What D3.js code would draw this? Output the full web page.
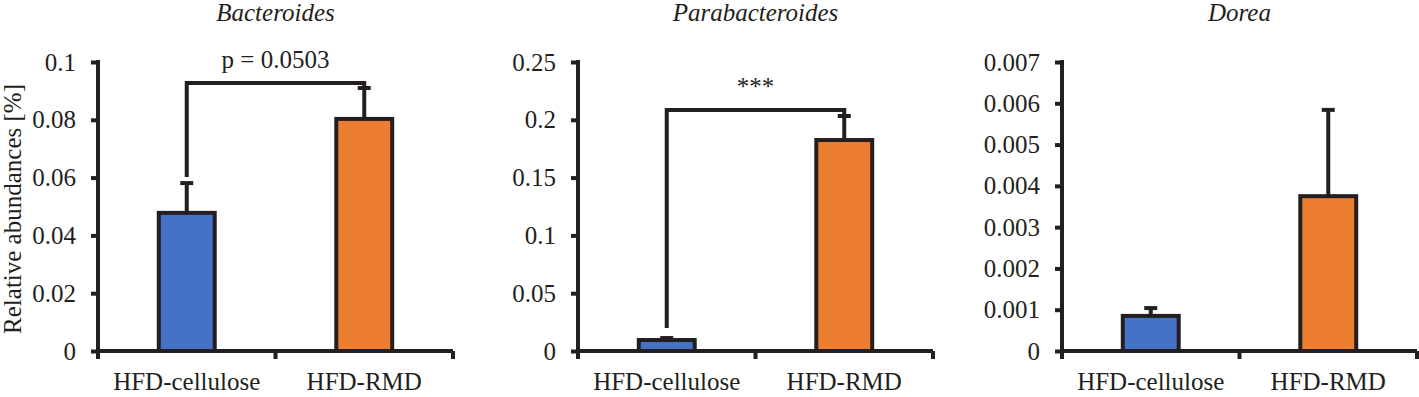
<!DOCTYPE html>
<html>
<head>
<meta charset="utf-8">
<script src="https://cdn.jsdelivr.net/npm/d3@7"></script>
<style>
  body { margin: 0; background: #fff; }
  text { font-family: "Liberation Serif", "Times New Roman", serif; fill: #231f20; }
</style>
</head>
<body>
<div id="chart"></div>
<script>
const width = 1419;
const height = 397;

// data
const categories = ["HFD-cellulose", "HFD-RMD"];
const titles = ["Bacteroides", "Parabacteroides", "Dorea"];
const means = [
    [0.0478, 0.0803],
    [0.0095, 0.1825],
    [0.00085, 0.00375]
];
const sds = [
    [0.0103, 0.0107],
    [0.0017, 0.0208],
    [0.00019, 0.00209]
];
const yMax = [0.1, 0.25, 0.007];
const yTicks = [
    [0, 0.02, 0.04, 0.06, 0.08, 0.1],
    [0, 0.05, 0.1, 0.15, 0.2, 0.25],
    [0, 0.001, 0.002, 0.003, 0.004, 0.005, 0.006, 0.007]
];
const yTickLabels = [
    ["0", "0.02", "0.04", "0.06", "0.08", "0.1"],
    ["0", "0.05", "0.1", "0.15", "0.2", "0.25"],
    ["0", "0.001", "0.002", "0.003", "0.004", "0.005", "0.006", "0.007"]
];
const bracketLabels = ["p = 0.0503", "***", null];
const bracketLevels = [0.0927, 0.2085, null];
const bracketLeftEnds = [0.0602, 0.0199, null];

const colors = ["#4472c4", "#ed7d31"];
const ink = "#231f20";
const lw = 4;

const panelLeft = [98, 578, 1062];
const panelWidth = 355;
const plotTop = 62;
const plotBottom = 351;

const svg = d3.select("#chart")
    .append("svg")
    .attr("width", width)
    .attr("height", height);

svg.append("text")
    .attr("transform", `translate(21,209) rotate(-90)`)
    .attr("text-anchor", "middle")
    .style("font-size", "25px")
    .text("Relative abundances [%]");

titles.forEach((title, i) => {
    const g = svg.append("g")
        .attr("transform", `translate(${panelLeft[i]},0)`);

    const x = d3.scaleBand()
        .domain(categories)
        .range([0, panelWidth])
        .paddingInner(0.685)
        .paddingOuter(0.3425);

    const y = d3.scaleLinear()
        .domain([0, yMax[i]])
        .range([plotBottom, plotTop]);

    const cx = c => x(c) + x.bandwidth() / 2;

    g.append("text")
        .attr("x", panelWidth / 2)
        .attr("y", 21)
        .attr("text-anchor", "middle")
        .style("font-size", "25px")
        .style("font-style", "italic")
        .text(title);

    // bars
    g.selectAll(".bar")
        .data(categories)
        .enter().append("rect")
        .attr("class", "bar")
        .attr("x", d => x(d))
        .attr("y", (d, j) => y(means[i][j]))
        .attr("width", x.bandwidth())
        .attr("height", (d, j) => plotBottom - y(means[i][j]))
        .attr("fill", (d, j) => colors[j])
        .attr("stroke", ink)
        .attr("stroke-width", lw);

    // upper error bars
    const err = g.selectAll(".err")
        .data(categories)
        .enter().append("g")
        .attr("class", "err");
    err.append("line")
        .attr("x1", d => cx(d))
        .attr("x2", d => cx(d))
        .attr("y1", (d, j) => y(means[i][j]))
        .attr("y2", (d, j) => y(means[i][j] + sds[i][j]))
        .attr("stroke", ink)
        .attr("stroke-width", lw);
    err.append("line")
        .attr("x1", d => cx(d) - 6.5)
        .attr("x2", d => cx(d) + 6.5)
        .attr("y1", (d, j) => y(means[i][j] + sds[i][j]))
        .attr("y2", (d, j) => y(means[i][j] + sds[i][j]))
        .attr("stroke", ink)
        .attr("stroke-width", lw);

    // y axis
    const yAxis = g.append("g")
        .call(d3.axisLeft(y)
            .tickValues(yTicks[i])
            .tickFormat((d, k) => yTickLabels[i][k])
            .tickSize(7)
            .tickSizeOuter(0)
            .tickPadding(15));
    yAxis.select(".domain").remove();
    yAxis.selectAll(".tick line").attr("stroke", ink).attr("stroke-width", lw);
    yAxis.selectAll(".tick text")
        .style("font-size", "25px")
        .style("font-family", "'Liberation Serif', 'Times New Roman', serif")
        .attr("fill", ink);

    g.append("line")
        .attr("x1", 0).attr("x2", 0)
        .attr("y1", plotTop - 2).attr("y2", plotBottom + 8)
        .attr("stroke", ink).attr("stroke-width", lw);

    // x axis with ticks at band edges
    g.append("line")
        .attr("x1", 0).attr("x2", panelWidth)
        .attr("y1", plotBottom).attr("y2", plotBottom)
        .attr("stroke", ink).attr("stroke-width", lw);
    const edges = [0, x.step(), panelWidth];
    g.selectAll(".xtick")
        .data(edges)
        .enter().append("line")
        .attr("class", "xtick")
        .attr("x1", d => d).attr("x2", d => d)
        .attr("y1", plotBottom).attr("y2", plotBottom + 8)
        .attr("stroke", ink).attr("stroke-width", lw);

    g.selectAll(".xlabel")
        .data(categories)
        .enter().append("text")
        .attr("class", "xlabel")
        .attr("x", d => cx(d))
        .attr("y", 390)
        .attr("text-anchor", "middle")
        .style("font-size", "25px")
        .text(d => d);

    // significance bracket
    if (bracketLabels[i]) {
        const x1 = cx(categories[0]);
        const x2 = cx(categories[1]);
        const by = y(bracketLevels[i]);
        const path = d3.path();
        path.moveTo(x1, y(bracketLeftEnds[i]));
        path.lineTo(x1, by);
        path.lineTo(x2, by);
        path.lineTo(x2, y(means[i][1] + sds[i][1]));
        g.append("path")
            .attr("d", path.toString())
            .attr("fill", "none")
            .attr("stroke", ink)
            .attr("stroke-width", lw);

        g.append("text")
            .attr("x", (x1 + x2) / 2)
            .attr("y", by - 15)
            .attr("text-anchor", "middle")
            .style("font-size", "25px")
            .text(bracketLabels[i]);
    }
});
</script>
</body>
</html>
